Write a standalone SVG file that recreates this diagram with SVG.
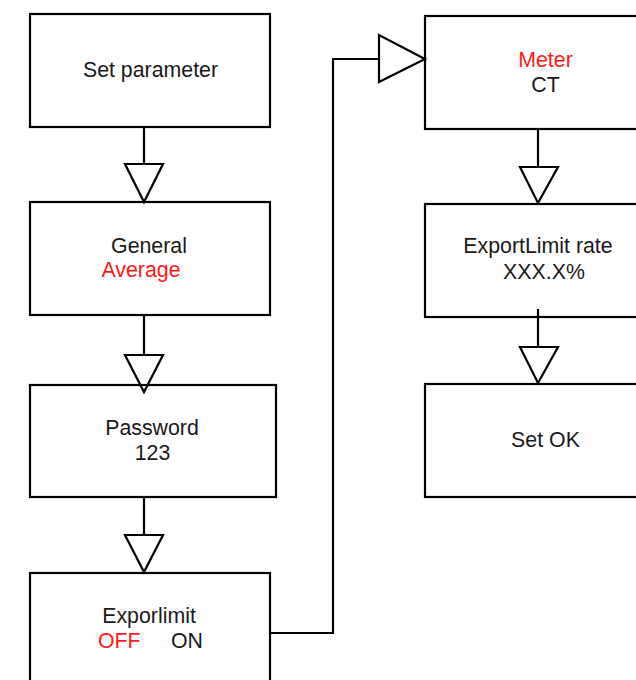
<svg xmlns="http://www.w3.org/2000/svg" width="636" height="680" viewBox="0 0 636 680">
<style>
.box{fill:none;stroke:#000;stroke-width:2.2}
.ln{fill:none;stroke:#000;stroke-width:2.2}
.tri{fill:#fff;stroke:#000;stroke-width:2.2;stroke-linejoin:miter}
text{font-family:"Liberation Sans",Arial,sans-serif;font-size:21.33px;fill:#1a1a1a}
.c{text-anchor:middle}
.red{fill:#ff1a1a}
</style>
<rect width="636" height="680" fill="#fff"/>
<g id="connectors">
<line class="ln" x1="144" y1="127" x2="144" y2="164"/>
<polygon class="tri" points="125,164 163,164 144,202"/>
<line class="ln" x1="144" y1="315" x2="144" y2="355"/>
<polygon class="tri" points="125,355 163,355 144,392"/>
<line class="ln" x1="144" y1="497" x2="144" y2="535"/>
<polygon class="tri" points="125,535 163,535 144,572"/>
<polyline class="ln" points="270,633 333,633 333,59 379,59"/>
<polygon class="tri" points="379,35 379,82 425,59"/>
<line class="ln" x1="538" y1="129" x2="538" y2="167"/>
<polygon class="tri" points="520,167 558,167 538,203"/>
<line class="ln" x1="538" y1="309" x2="538" y2="347"/>
<polygon class="tri" points="520,347 558,347 538,383"/>
</g>
<g id="n1">
<rect class="box" x="30" y="14" width="240" height="113"/>
<text class="c" x="150.5" y="77">Set parameter</text>
</g>
<g id="n2">
<rect class="box" x="30" y="202" width="240" height="113"/>
<text class="c" x="149" y="253">General</text>
<text class="c red" x="141" y="277">Average</text>
</g>
<g id="n3">
<rect class="box" x="30" y="385" width="246" height="112"/>
<text class="c" x="152" y="435">Password</text>
<text class="c" x="152.5" y="460">123</text>
</g>
<g id="n4">
<rect class="box" x="30" y="573" width="240" height="120"/>
<text class="c" x="149" y="623">Exporlimit</text>
<text class="red" x="98" y="648">OFF</text>
<text x="171" y="648">ON</text>
</g>
<g id="n5">
<rect class="box" x="425" y="16" width="240" height="113"/>
<text class="c red" x="545.5" y="67">Meter</text>
<text class="c" x="545.5" y="92">CT</text>
</g>
<g id="n6">
<rect class="box" x="425" y="204" width="240" height="113"/>
<text class="c" x="538" y="253">ExportLimit rate</text>
<text class="c" x="544" y="279">XXX.X%</text>
</g>
<g id="n7">
<rect class="box" x="425" y="384" width="240" height="113"/>
<text class="c" x="545.5" y="447">Set OK</text>
</g>
</svg>
